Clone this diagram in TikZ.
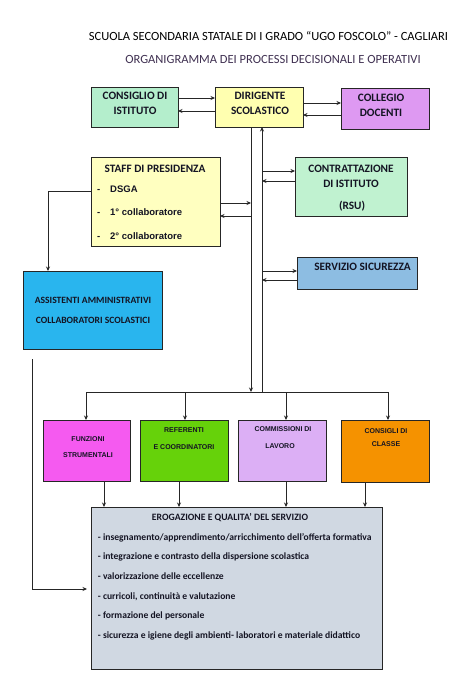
\documentclass[tikz,border=0pt]{standalone}
\usepackage{fontspec}
\setmainfont{Carlito}
\newfontfamily\arialf{Liberation Sans}
\usetikzlibrary{arrows.meta,calc}
\definecolor{cConsiglio}{RGB}{180,238,204}
\definecolor{cDirigente}{RGB}{255,255,176}
\definecolor{cCollegio}{RGB}{222,153,242}
\definecolor{cStaff}{RGB}{255,255,192}
\definecolor{cContr}{RGB}{192,242,208}
\definecolor{cServ}{RGB}{141,189,226}
\definecolor{cAssist}{RGB}{41,181,238}
\definecolor{cFunz}{RGB}{245,90,240}
\definecolor{cRef}{RGB}{102,210,10}
\definecolor{cComm}{RGB}{220,175,245}
\definecolor{cCons}{RGB}{245,146,0}
\definecolor{cErog}{RGB}{208,216,226}
\definecolor{cTitleTwo}{RGB}{64,49,82}
\definecolor{cInk}{RGB}{20,20,35}
\newcommand{\mkbox}[6]{\node[box,fill=#6,minimum width={#4pt-#2pt},minimum height={#5pt-#3pt}] (#1) at ({(#2+#4)/2},{(#3+#5)/2}) {};}
\tikzset{
  box/.style={draw=black!85,line width=0.9pt,inner sep=0pt,outer sep=0pt},
  arr/.style={draw=black!85,line width=0.8pt,-{Stealth[length=4.5pt,width=4pt]}},
  ln/.style={draw=black!85,line width=0.8pt},
  txt/.style={inner sep=0pt,anchor=base,text=cInk,font=\fontsize{11.3}{13}\selectfont\bfseries},
  txl/.style={inner sep=0pt,anchor=base west,text=cInk,font=\fontsize{9.6}{11}\selectfont\bfseries},
  txa/.style={inner sep=0pt,anchor=base west,text=cInk,font=\arialf\fontsize{9.5}{11}\selectfont\bfseries},
  txs/.style={inner sep=0pt,anchor=base,text=cInk,font=\arialf\fontsize{7}{8}\selectfont\bfseries},
  txm/.style={inner sep=0pt,anchor=base,text=cInk,font=\fontsize{9.7}{11}\selectfont\bfseries},
}
\begin{document}
\begin{tikzpicture}[x=1pt,y=-1pt]
\useasboundingbox[fill=white] (0,0) rectangle (466,682);
% titles
\node[inner sep=0pt,anchor=base,font=\fontsize{12.5}{14}\selectfont] (t1) at (268.5,40.7) {SCUOLA SECONDARIA STATALE DI I GRADO “UGO FOSCOLO” - CAGLIARI};
\node[inner sep=0pt,anchor=base,text=cTitleTwo,font=\fontsize{12.5}{14}\selectfont] (t2) at (273,64) {ORGANIGRAMMA DEI PROCESSI DECISIONALI E OPERATIVI};
% boxes
\mkbox{cons}{91}{87}{178}{127}{cConsiglio}
\mkbox{dir}{215}{87}{303}{127}{cDirigente}
\mkbox{coll}{341}{88}{429}{129}{cCollegio}
\mkbox{staff}{91}{157}{220}{246}{cStaff}
\mkbox{contr}{295}{157}{407}{216}{cContr}
\mkbox{serv}{297}{257}{417}{289}{cServ}
\mkbox{assist}{23}{271}{162}{349}{cAssist}
\mkbox{funz}{43}{420}{130}{481}{cFunz}
\mkbox{ref}{140}{420}{228}{481}{cRef}
\mkbox{comm}{238}{420}{326}{481}{cComm}
\mkbox{consc}{341}{420}{429}{482}{cCons}
\mkbox{erog}{91}{507}{382}{669}{cErog}
% texts
\node[txt] (consA) at (135,100) {CONSIGLIO DI};
\node[txt] (consB) at (135,114) {ISTITUTO};
\node[txt] (dirA) at (260,100) {DIRIGENTE};
\node[txt] (dirB) at (260,114) {SCOLASTICO};
\node[txt] (collA) at (381,102) {COLLEGIO};
\node[txt] (collB) at (381,117) {DOCENTI};
\node[txt] (staffT) at (155,172) {STAFF DI PRESIDENZA};
\node[txa] (sd1) at (97,192) {-};
\node[txa] (sd2) at (97,215.7) {-};
\node[txa] (sd3) at (97,239) {-};
\node[txa] (s1) at (110,192) {DSGA};
\node[txa] (s2) at (110,215.7) {1° collaboratore};
\node[txa] (s3) at (110,239) {2° collaboratore};
\node[txt] (contrA) at (351,172) {CONTRATTAZIONE};
\node[txt] (contrB) at (351,187) {DI ISTITUTO};
\node[txt] (contrC) at (352,209) {(RSU)};
\node[txt] (servT) at (362.5,270) {SERVIZIO SICUREZZA};
\node[txt,font=\fontsize{9.6}{11}\selectfont\bfseries] (asA) at (93,303) {ASSISTENTI AMMINISTRATIVI};
\node[txt,font=\fontsize{9.6}{11}\selectfont\bfseries] (asB) at (93,323) {COLLABORATORI SCOLASTICI};
\node[txs] (funA) at (88,441) {FUNZIONI};
\node[txs] (funB) at (88,457) {STRUMENTALI};
\node[txs] (refA) at (184,432) {REFERENTI};
\node[txs] (refB) at (184,449) {E COORDINATORI};
\node[txs] (comA) at (283,431) {COMMISSIONI DI};
\node[txs] (comB) at (280,448) {LAVORO};
\node[txs] (cclA) at (386,433) {CONSIGLI DI};
\node[txs] (cclB) at (386,446) {CLASSE};
\node[txm] (erT) at (230,520) {EROGAZIONE E QUALITA’ DEL SERVIZIO};
\node[txl] (er1) at (97.7,540) {- insegnamento/apprendimento/arricchimento dell’offerta formativa};
\node[txl] (er2) at (97.7,559) {- integrazione e contrasto della dispersione scolastica};
\node[txl] (er3) at (97.7,579) {- valorizzazione delle eccellenze};
\node[txl] (er4) at (97.7,599) {- curricoli, continuità e valutazione};
\node[txl] (er5) at (97.7,618) {- formazione del personale};
\node[txl] (er6) at (97.7,638) {- sicurezza e igiene degli ambienti- laboratori e materiale didattico};
% coordinates
\coordinate (v1) at (251,392);
\coordinate (v2) at (262,392);
\coordinate (busL) at (86,392);
\coordinate (busR) at (388,392);
\coordinate (aL) at (32,359);
% top connectors
\draw[arr] (cons.east |- 0,98) -- (dir.west |- 0,98);
\draw[arr] (dir.west |- 0,111) -- (cons.east |- 0,111);
\draw[arr] (dir.east |- 0,103) -- (coll.west |- 0,103);
\draw[arr] (coll.west |- 0,115) -- (dir.east |- 0,115);
% vertical trunk
\draw[arr] (dir.south -| v1) -- (v1);
\draw[arr] (v2) -- (dir.south -| v2);
% side connectors
\draw[arr] (v2 |- 0,171) -- (contr.west |- 0,171);
\draw[arr] (contr.west |- 0,181) -- (v2 |- 0,181);
\draw[arr] (v2 |- 0,271) -- (serv.west |- 0,271);
\draw[arr] (serv.west |- 0,280) -- (v2 |- 0,280);
\draw[arr] (staff.east |- 0,203) -- (v1 |- 0,203);
\draw[arr] (v1 |- 0,216) -- (staff.east |- 0,216);
\draw[arr] (staff.west |- 0,191) -| (assist.north -| 48,0);
\draw[arr,shorten >=4pt] (aL) |- (erog.west |- 0,589);
% bus
\draw[ln] (busL) -- (busR);
\draw[arr] (busL) -- (funz.north -| busL);
\draw[arr] (185,392) -- (ref.north -| 185,0);
\draw[arr] (286,392) -- (comm.north -| 286,0);
\draw[arr] (busR) -- (consc.north -| busR);
% to erogazione
\draw[arr] (funz.south -| 104,0) -- (erog.north -| 104,0);
\draw[arr] (ref.south -| 179,0) -- (erog.north -| 179,0);
\draw[arr] (comm.south -| 286,0) -- (erog.north -| 286,0);
\draw[arr] (consc.south -| 365,0) -- (erog.north -| 365,0);
\end{tikzpicture}
\end{document}
